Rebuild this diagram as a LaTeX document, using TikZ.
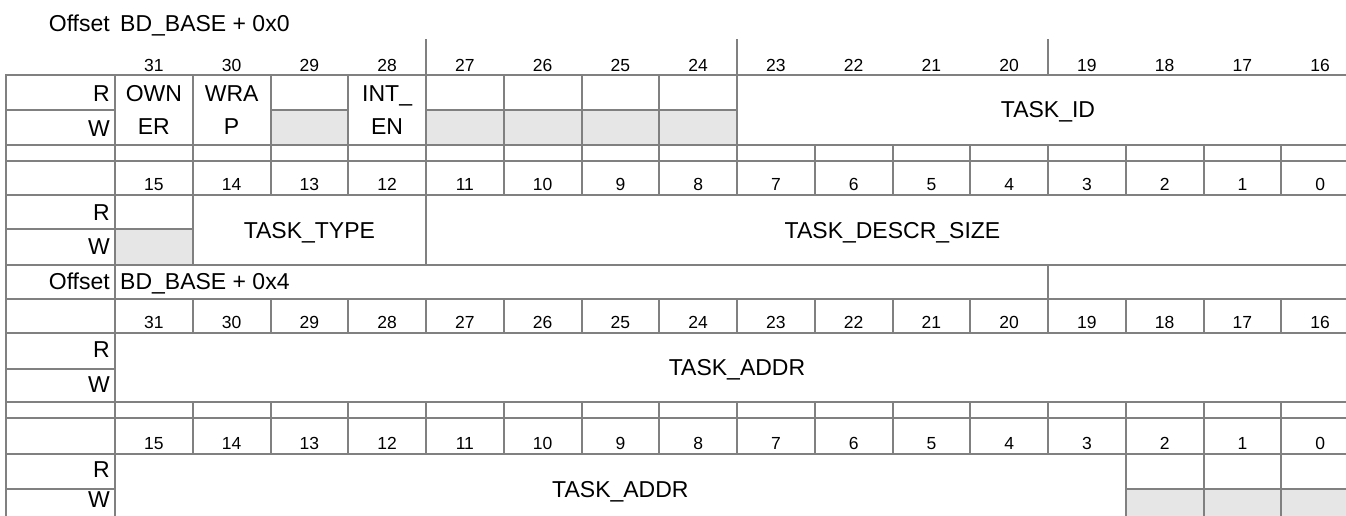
\documentclass[tikz,border=0pt]{standalone}
\usepackage{fontspec}
\setmainfont{Liberation Sans}
\definecolor{gridgray}{HTML}{808080}
\definecolor{resvgray}{HTML}{E6E6E6}
% left edge of bit 31/15 and width of one bit column
\newcommand{\regx}{115}
\newcommand{\colw}{77.75}
\newcommand{\regr}{1359}

\begin{document}
\begin{tikzpicture}[
		x=1pt, y=-1pt,
		% Rules of the register table
		rule/.style={draw=gridgray, line width=2pt, line cap=rect},
		resv/.style={fill=resvgray},
		% Texts
		bitno/.style={font=\fontsize{17.5}{20}\selectfont, anchor=base, inner sep=0pt},
		fname/.style={font=\fontsize{23}{33}\selectfont, anchor=base, inner sep=0pt},
		fname two/.style={font=\fontsize{23}{33}\selectfont, align=center, inner sep=0pt},
		rwname/.style={font=\fontsize{23}{26}\selectfont, anchor=base east, inner sep=0pt},
		offname/.style={font=\fontsize{23}{26}\selectfont, anchor=base west, inner sep=0pt}
		]
		\useasboundingbox (0,0) rectangle (1346,516);
		\clip (0,0) rectangle (1346,516);
		
		% reserved W cells
		\fill[resv] ({\regx+2*\colw},110) rectangle ({\regx+3*\colw},145);
		\fill[resv] ({\regx+4*\colw},110) rectangle ({\regx+8*\colw},145);
		\fill[resv] (\regx,229) rectangle ({\regx+\colw},265);
		\fill[resv] ({\regx+13*\colw},489) rectangle ({\regx+16*\colw},530);
		
		% horizontal rules
		\foreach \y in {75,145,161,195,265,299,333,402,418,454}
			\draw[rule] (6,\y) -- (\regr,\y);
		\draw[rule] (6,110) -- (\regx,110);
		\draw[rule] ({\regx+2*\colw},110) -- ({\regx+3*\colw},110);
		\draw[rule] ({\regx+4*\colw},110) -- ({\regx+8*\colw},110);
		\draw[rule] (6,229) -- ({\regx+\colw},229);
		\draw[rule] (6,369) -- (\regx,369);
		\draw[rule] (6,489) -- (\regx,489);
		\draw[rule] ({\regx+13*\colw},489) -- (\regr,489);
		
		% vertical rules
		\draw[rule] (6,75) -- (6,530);
		\draw[rule] (\regx,75) -- (\regx,530);
		\foreach \k in {4,8,12}
			\draw[rule] ({\regx+\k*\colw},40) -- ({\regx+\k*\colw},75);
		\foreach \k in {1,...,8}
			\draw[rule] ({\regx+\k*\colw},75) -- ({\regx+\k*\colw},145);
		\foreach \k in {1,...,16}{
			\draw[rule] ({\regx+\k*\colw},145) -- ({\regx+\k*\colw},195);
			\draw[rule] ({\regx+\k*\colw},299) -- ({\regx+\k*\colw},333);
			\draw[rule] ({\regx+\k*\colw},402) -- ({\regx+\k*\colw},454);
		}
		\foreach \k in {1,4}
			\draw[rule] ({\regx+\k*\colw},195) -- ({\regx+\k*\colw},265);
		\draw[rule] ({\regx+12*\colw},265) -- ({\regx+12*\colw},299);
		\foreach \k in {13,...,16}
			\draw[rule] ({\regx+\k*\colw},454) -- ({\regx+\k*\colw},530);
		
		% offsets
		\node[rwname] (off0) at (110,31.5) {Offset};
		\node[offname] (base0) at ([xshift=10pt]off0.base east) {BD\_BASE + 0x0};
		\node[rwname] (off4) at (110,289.5) {Offset};
		\node[offname] (base4) at ([xshift=10pt]off4.base east) {BD\_BASE + 0x4};
		
		% bit numbers
		\foreach \i in {0,...,15}{
			\pgfmathtruncatemacro\hi{31-\i}
			\pgfmathtruncatemacro\lo{15-\i}
			\node[bitno] (hdrA-\hi) at ({\regx+(\i+0.5)*\colw},71.5) {\hi};
			\node[bitno] (hdrB-\lo) at ({\regx+(\i+0.5)*\colw},190.5) {\lo};
			\node[bitno] (hdrC-\hi) at ({\regx+(\i+0.5)*\colw},328.5) {\hi};
			\node[bitno] (hdrD-\lo) at ({\regx+(\i+0.5)*\colw},449.5) {\lo};
		}
		
		% R / W labels
		\foreach \r/\w [count=\n] in {101.5/136.5, 220/254, 357.5/392, 477/507}{
			\node[rwname] (rd-\n) at (110,\r) {R};
			\node[rwname] (wr-\n) at (110,\w) {W};
		}
		
		% fields, word 0
		\node[fname two] (owner) at ({\regx+0.5*\colw},110) {OWN\\ER};
		\node[fname two] (wrap) at ({\regx+1.5*\colw},110) {WRA\\P};
		\node[fname two] (inten) at ({\regx+3.5*\colw},110) {INT\_\\EN};
		\node[fname] (taskid) at ({\regx+12*\colw},118) {TASK\_ID};
		\node[fname] (tasktype) at ({\regx+2.5*\colw},238) {TASK\_TYPE};
		\node[fname] (descrsize) at ({\regx+10*\colw},238) {TASK\_DESCR\_SIZE};
		
		% fields, word 1
		\node[fname] (addrhi) at ({\regx+8*\colw},375.5) {TASK\_ADDR};
		\node[fname] (addrlo) at ({\regx+6.5*\colw},497) {TASK\_ADDR};
	\end{tikzpicture}
\end{document}
